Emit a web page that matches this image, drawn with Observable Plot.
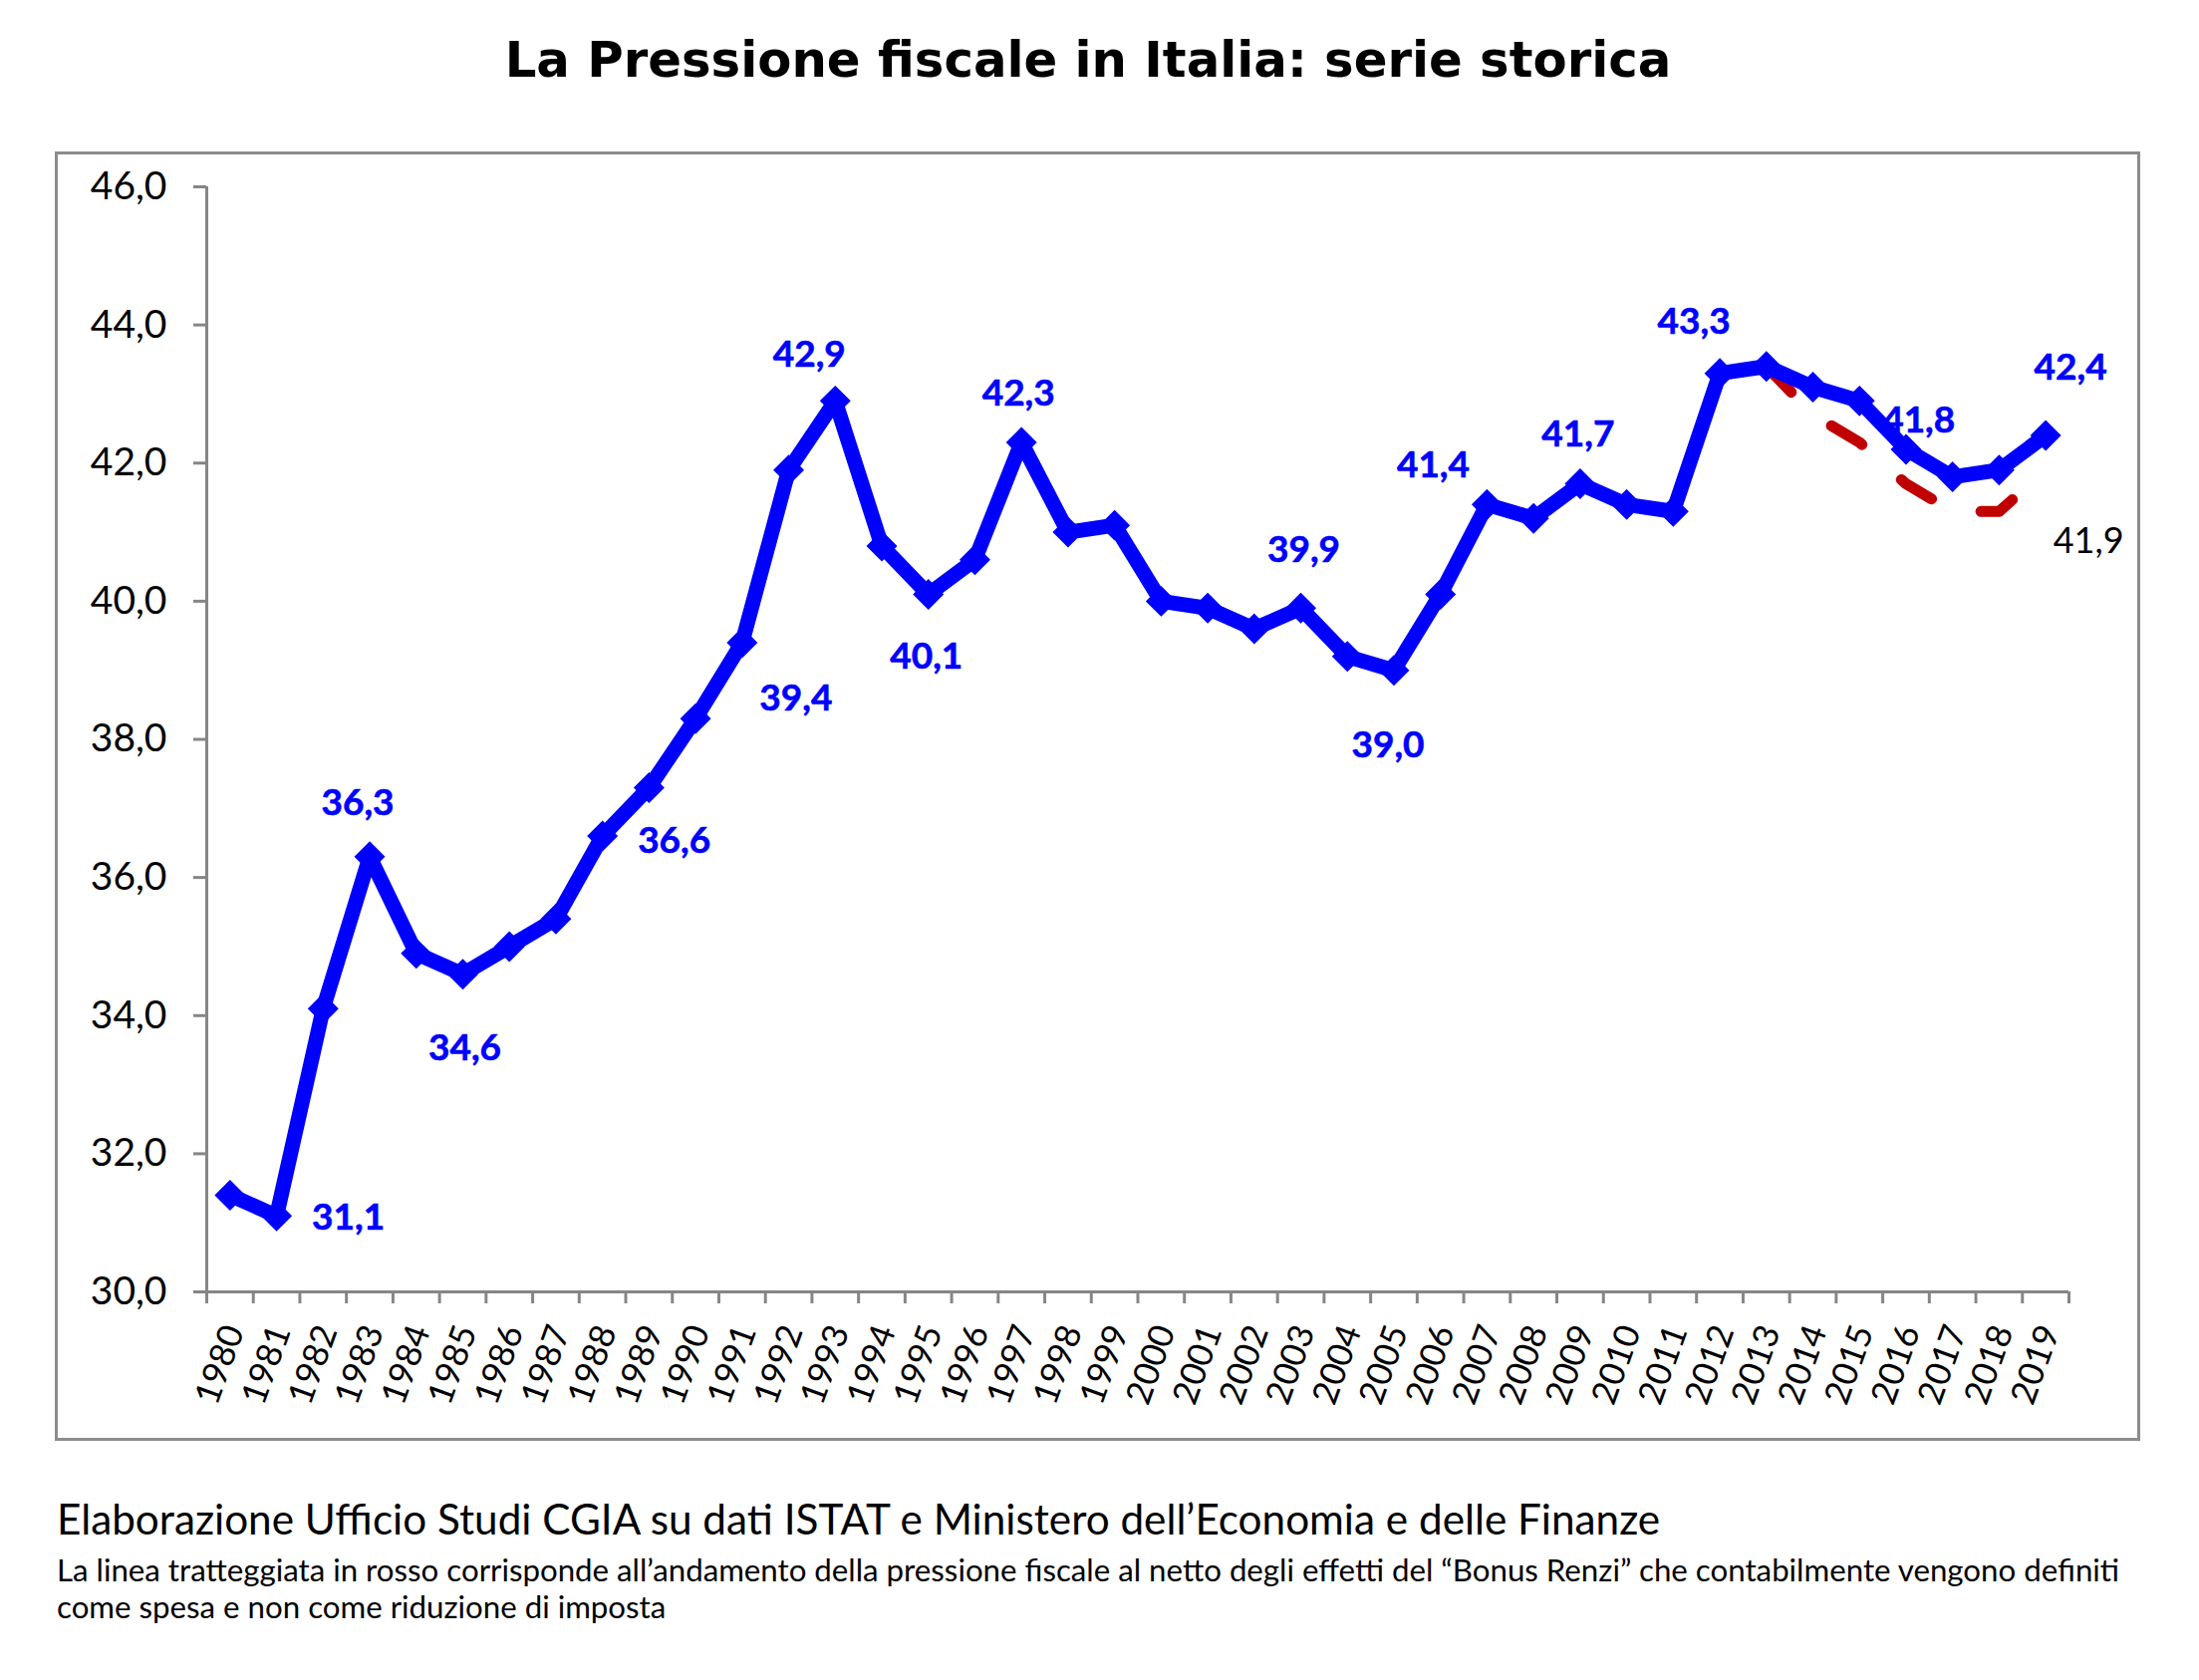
<!DOCTYPE html>
<html><head><meta charset="utf-8">
<script src="https://cdn.jsdelivr.net/npm/d3@7"></script>
<script src="https://cdn.jsdelivr.net/npm/@observablehq/plot@0.6"></script>
<style>
html,body{margin:0;padding:0;background:#fff;overflow:hidden}
body{width:2207px;height:1686px;position:relative}
.t{position:absolute;white-space:nowrap;line-height:1.2;color:#000}
.bl{display:inline-block;width:0;height:0}
</style></head><body>
<div id="title" class="t" style="left:0;width:2184px;text-align:center;font-family:'DejaVu Sans';font-weight:bold;font-size:50px"><span class="txt">La Pressione fiscale in Italia: serie storica</span><span class="bl"></span></div>
<div id="chart" style="position:absolute;left:0;top:152px"></div>
<div id="box" style="position:absolute;left:55px;top:152px;width:2093px;height:1294px;box-sizing:border-box;border:3px solid #8c8c8c;pointer-events:none"></div>
<div id="c1" class="t" style="left:57px;font-family:Lato;font-size:34px"><span class="txt">Elaborazione Ufficio Studi CGIA su dati ISTAT e Ministero dell’Economia e delle Finanze</span><span class="bl"></span></div>
<div id="c2" class="t" style="left:57px;font-family:Lato;font-size:28px"><span class="txt">La linea tratteggiata in rosso corrisponde all’andamento della pressione fiscale al netto degli effetti del “Bonus Renzi” che contabilmente vengono definiti</span><span class="bl"></span></div>
<div id="c3" class="t" style="left:57px;font-family:Lato;font-size:28px"><span class="txt">come spesa e non come riduzione di imposta</span><span class="bl"></span></div>
<script>
// ---- data ----
const years = [1980,1981,1982,1983,1984,1985,1986,1987,1988,1989,
               1990,1991,1992,1993,1994,1995,1996,1997,1998,1999,
               2000,2001,2002,2003,2004,2005,2006,2007,2008,2009,
               2010,2011,2012,2013,2014,2015,2016,2017,2018,2019];
const pressione = [31.4,31.1,34.1,36.3,34.9,34.6,35.0,35.4,36.6,37.3,
                   38.3,39.4,41.9,42.9,40.8,40.1,40.6,42.3,41.0,41.1,
                   40.0,39.9,39.6,39.9,39.2,39.0,40.1,41.4,41.2,41.7,
                   41.4,41.3,43.3,43.4,43.1,42.9,42.2,41.8,41.9,42.4];
const pressioneNetto = [31.4,31.1,34.1,36.3,34.9,34.6,35.0,35.4,36.6,37.3,
                   38.3,39.4,41.9,42.9,40.8,40.1,40.6,42.3,41.0,41.1,
                   40.0,39.9,39.6,39.9,39.2,39.0,40.1,41.4,41.2,41.7,
                   41.4,41.3,43.3,43.4,42.7,42.3,41.7,41.3,41.3,41.9];
const yTicks = [30,32,34,36,38,40,42,44,46];
const labelYears = [1981,1983,1985,1988,1991,1993,1995,1997,2003,2005,2007,2009,2012,2017,2019];
const labelNettoYears = [2019];

// ---- label placement (pixel offsets from the point) ----
const labelOffsets = {1981:[72,2],1983:[-12,-54],1985:[2,74],1988:[72,5],1991:[54,56],1993:[-26,-46],
  1995:[-2,63],1997:[-3,-49],2003:[3,-58],2005:[-6,75],2007:[-54,-39],2009:[-2,-49],2012:[-26,-51],
  2017:[-34,-56],2019:[25,-68]};
const nettoOffsets = {2019:[43,72]};

const blue = "#0000ff", red = "#c00000", gray = "#868686";
const fmt = d => d.toFixed(1).replace(".", ",");
const data = years.map((year, i) => ({year, value: pressione[i]}));
const netto = years.map((year, i) => ({year, value: pressioneNetto[i]}));
const firstDiff = pressione.findIndex((v, i) => v !== pressioneNetto[i]);
const split = years[firstDiff - 1];
const yMin = yTicks[0], yMax = yTicks[yTicks.length - 1];
const x0 = years[0] - 0.5, x1 = years[years.length - 1] + 0.5;
const bounds = d3.range(years.length + 1).map(i => x0 + i);

const labelMarks = labelYears.map(yr => {
  const [dx, dy] = labelOffsets[yr];
  return Plot.text(data.filter(d => d.year === yr), {x: "year", y: "value", text: d => fmt(d.value),
    dx, dy, fill: blue, fontWeight: "bold", fontSize: 37, fontFamily: "Lato", stroke: blue, strokeWidth: 0.6});
});
const nettoMarks = labelNettoYears.map(yr => {
  const [dx, dy] = nettoOffsets[yr];
  return Plot.text(netto.filter(d => d.year === yr), {x: "year", y: "value", text: d => fmt(d.value),
    dx, dy, fill: "black", fontSize: 36, fontFamily: "Lato"});
});

const chart = Plot.plot({
  width: 2207, height: 1293,
  marginLeft: 207, marginRight: 131, marginTop: 35, marginBottom: 149,
  x: {type: "linear", domain: [x0, x1], axis: null},
  y: {domain: [yMin, yMax], axis: null},
  style: {background: "transparent", overflow: "visible"},
  marks: [
    Plot.axisY({ticks: yTicks, tickSize: 13, tickPadding: 27, tickFormat: fmt, fontSize: 39, fontFamily: "Lato",
      stroke: gray, strokeWidth: 3, fill: "black", label: null}),
    Plot.axisX({ticks: bounds, tickSize: 12, tickFormat: () => "", stroke: gray, strokeWidth: 3, label: null}),
    Plot.text(years, {x: d => d, frameAnchor: "bottom", text: d => String(d), rotate: -70,
      textAnchor: "end", lineAnchor: "middle", dx: 4, dy: 35, fontSize: 35, fontFamily: "Lato", fill: "black"}),
    Plot.ruleX([x0], {y1: yMin, y2: yMax, stroke: gray, strokeWidth: 3}),
    Plot.ruleY([yMin], {x1: x0, x2: x1, stroke: gray, strokeWidth: 3}),
    Plot.line(netto.filter(d => d.year <= split), {x: "year", y: "value", stroke: red, strokeWidth: 11}),
    Plot.line(netto.filter(d => d.year >= split), {x: "year", y: "value", stroke: red, strokeWidth: 11,
      strokeDasharray: "36 53", strokeLinecap: "round"}),
    Plot.line(data, {x: "year", y: "value", stroke: blue, strokeWidth: 15}),
    Plot.dot(data, {x: "year", y: "value", symbol: "diamond2", r: 13, fill: blue, stroke: blue}),
    ...labelMarks,
    ...nettoMarks
  ]
});
document.getElementById("chart").append(chart);

// ---- text placement ----
function place(id, {baseline, width, fontSize}) {
  const el = document.getElementById(id);
  const span = el.querySelector(".txt");
  if (fontSize) el.style.fontSize = fontSize + "px";
  if (width) {
    const w = span.getBoundingClientRect().width;
    const fs = parseFloat(getComputedStyle(el).fontSize);
    el.style.fontSize = (fs * width / w) + "px";
  }
  el.style.top = "0px";
  const b = el.querySelector(".bl").getBoundingClientRect().top;
  el.style.top = (baseline - b) + "px";
  return parseFloat(getComputedStyle(el).fontSize);
}
place("title", {baseline: 77, width: 1171});
place("c1", {baseline: 1540, width: 1610});
const fs2 = place("c2", {baseline: 1587, width: 2071});
place("c3", {baseline: 1624, fontSize: fs2});
</script>
</body></html>
